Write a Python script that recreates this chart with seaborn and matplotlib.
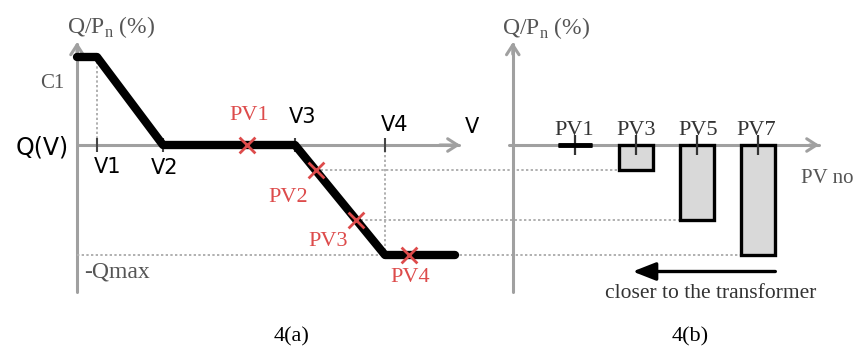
import matplotlib
matplotlib.use("Agg")
import matplotlib.pyplot as plt
import seaborn as sns

# ---------------- data ----------------
# Q(V) droop curve (left panel): voltage in arbitrary units, Q/Pn in %
v_curve = [0, 2.0, 8.6, 21.8, 30.8, 37.8]
q_curve = [80, 80, 0, 0, -100, -100]
v_tick_names = ["V1", "V2", "V3", "V4"]
v_tick_pos = [2.0, 8.6, 21.8, 30.8]
# operating points of PVs on the curve
pv_curve_names = ["PV1", "PV2", "PV3", "PV4"]
pv_curve_v = [17.0, 23.9, 27.9, 33.2]
pv_curve_q = [0, -23, -68, -100]
# reactive power per PV (right panel)
bar_names = ["PV1", "PV3", "PV5", "PV7"]
bar_q = [0, -23, -68, -100]

# ---------------- style ----------------
sns.set_style("white")
plt.rcParams["font.family"] = ["DejaVu Sans"]
SERIF = ["Liberation Serif", "DejaVu Serif"]
GRAY = "#a0a0a0"
RED = "#dd4b4b"
W, H = 857, 352

fig = plt.figure(figsize=(W / 100, H / 100), dpi=100)
axL = fig.add_axes([0, 0, 1, 1])
axR = fig.add_axes([0, 0, 1, 1])
axR.patch.set_alpha(0)


def P(x, y):
    return (x / W, 1 - y / H)


def txt(x, y, s, size=16, color="black", serif=True, **kw):
    fig.text(*P(x, y), s, ha="center", va="center", fontsize=size, color=color,
             family=SERIF if serif else ["DejaVu Sans"], **kw)


# scales: 10 px per V unit (origin at px 77), 1.1 px per % (zero at py 145)
ylim = (-(H - 145) / 1.1, 145 / 1.1)

# ---------------- right panel: bars ----------------
bw = 0.56
sns.barplot(x=bar_names, y=bar_q, ax=axR, color="#d9d9d9", edgecolor="black",
            linewidth=2.4, width=bw, saturation=1, zorder=3)
axR.set_xlim(-575 / 61, (W - 575) / 61)
axR.set_ylim(*ylim)
axR.axis("off")
axR.vlines(range(len(bar_names)), -9, 9, color="#333333", lw=1.6, zorder=4)
axR.plot([-0.28, 0.28], [0, 0], color="black", lw=3.5, zorder=4, solid_capstyle="butt")

# right axes
axR.plot([-1.02, -1.02], [-134, 92], color=GRAY, lw=2.2, zorder=1)
axR.annotate("", xy=(-1.02, 96), xytext=(-1.02, 80),
             arrowprops=dict(arrowstyle="->,head_length=0.7,head_width=0.45", color=GRAY, lw=2.2))
axR.plot([-1.08, 4.0], [0, 0], color=GRAY, lw=2.2, zorder=2)
axR.annotate("", xy=(4.05, 0), xytext=(3.8, 0),
             arrowprops=dict(arrowstyle="->,head_length=0.7,head_width=0.45", color=GRAY, lw=2.2))
# arrow "closer to the transformer"
axR.annotate("", xy=(0.9, -115), xytext=(3.33, -115),
             arrowprops=dict(arrowstyle="-|>,head_length=1.4,head_width=0.55", color="black", lw=2.4))

# ---------------- left panel: curve ----------------
axL.set_xlim(-77 / 10, (W - 77) / 10)
axL.set_ylim(*ylim)
axL.axis("off")

# axes
axL.plot([0, 0], [-134, 92], color=GRAY, lw=2.2, zorder=1)
axL.annotate("", xy=(0, 96), xytext=(0, 80),
             arrowprops=dict(arrowstyle="->,head_length=0.7,head_width=0.45", color=GRAY, lw=2.2))
axL.plot([0, 38.2], [0, 0], color=GRAY, lw=2.2, zorder=1)
axL.annotate("", xy=(38.6, 0), xytext=(36, 0),
             arrowprops=dict(arrowstyle="->,head_length=0.7,head_width=0.45", color=GRAY, lw=2.2))

dot = dict(color="#b0b0b0", lw=1.4, ls=(0, (1.2, 1.2)), zorder=1)
axL.plot([v_tick_pos[0]] * 2, [q_curve[1], 0], **dot)
axL.plot([v_tick_pos[3]] * 2, [4, q_curve[-1]], **dot)


def bar_left_in_L(i):
    disp = axR.transData.transform((i - bw / 2, 0))
    return axL.transData.inverted().transform(disp)[0]


axL.plot([0, bar_left_in_L(3)], [pv_curve_q[3]] * 2, **dot)
axL.plot([pv_curve_v[2], bar_left_in_L(2)], [pv_curve_q[2]] * 2, **dot)
axL.plot([pv_curve_v[1], bar_left_in_L(1)], [pv_curve_q[1]] * 2, **dot)

axL.vlines(v_tick_pos, -6, 6, color="#444444", lw=1.5, zorder=2)

sns.lineplot(x=v_curve, y=q_curve, sort=False, estimator=None, ax=axL,
             color="black", lw=6, zorder=3)
sns.scatterplot(x=pv_curve_v, y=pv_curve_q, marker="x", s=130, color=RED,
                linewidth=2, ax=axL, zorder=5)

# ---------------- texts ----------------
qlab = r"Q/P$_\mathregular{n}$ (%)"
txt(111, 27, qlab, size=17, color="#555555")
txt(52, 83, "C1", size=15, color="#555555")
txt(42, 147, "Q(V)", size=17, serif=False)
txt(108, 167, "V1", size=15, serif=False)
txt(165, 168, "V2", size=15, serif=False)
txt(303, 117, "V3", size=15, serif=False)
txt(395, 125, "V4", size=15, serif=False)
txt(472, 127, "V", size=15, serif=False)
txt(117, 272, "-Qmax", size=17, color="#555555")
for name, (x, y) in zip(pv_curve_names, [(249, 115), (288, 197), (328, 241), (410, 278)]):
    txt(x, y, name, size=16, color=RED)

txt(546, 28, qlab, size=17, color="#555555")
for name, x in zip(bar_names, [574, 636, 698, 756]):
    txt(x, 130, name, size=16, color="#333333")
txt(827, 178, "PV no", size=15, color="#555555")
txt(711, 293, "closer to the transformer", size=15.5, color="#333333")
txt(292, 337, "4(a)", size=16)
txt(690, 337, "4(b)", size=16)

fig.savefig("out.png", dpi=100)
